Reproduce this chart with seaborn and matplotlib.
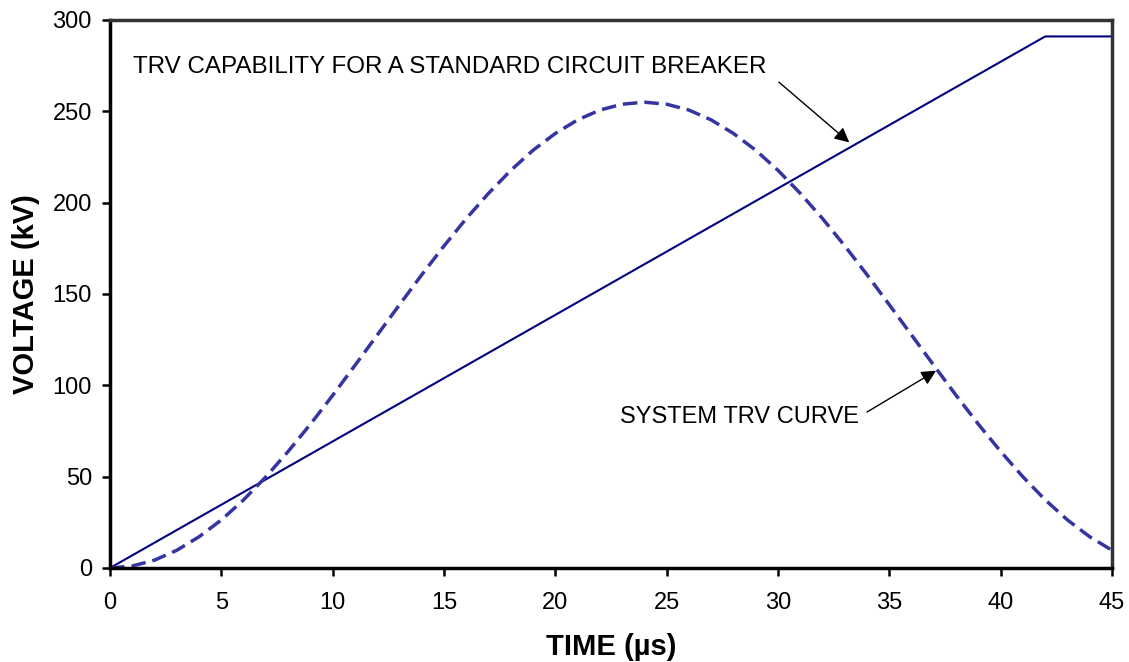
import matplotlib
matplotlib.use("Agg")
import matplotlib.pyplot as plt
import seaborn as sns
import pandas as pd

# Data
time_us = list(range(0, 46))
system_trv_kv = [0, 1.1, 4.3, 9.7, 17.1, 26.3, 37.3, 49.9, 63.8, 78.7,
                 94.5, 110.9, 127.5, 144.1, 160.5, 176.3, 191.3, 205.1, 217.7, 228.7,
                 237.9, 245.3, 250.7, 253.9, 255.0, 253.9, 250.7, 245.3, 237.9, 228.7,
                 217.7, 205.1, 191.3, 176.3, 160.5, 144.1, 127.5, 110.9, 94.5, 78.7,
                 63.8, 49.9, 37.3, 26.3, 17.1, 9.7]
capability_time = [0, 42, 45]
capability_kv = [0, 291, 291]

x_ticks = [0, 5, 10, 15, 20, 25, 30, 35, 40, 45]
y_ticks = [0, 50, 100, 150, 200, 250, 300]

sns.set_style("white")
plt.rcParams['font.family'] = ['Liberation Sans', 'DejaVu Sans']
plt.rcParams['text.color'] = 'black'
plt.rcParams['axes.labelcolor'] = 'black'

fig = plt.figure(figsize=(11.29, 6.62), dpi=100)
ax = fig.add_axes([110/1129, 1-568/662, (1112-110)/1129, (568-20)/662])

df_sys = pd.DataFrame({"t": time_us, "v": system_trv_kv})
df_cap = pd.DataFrame({"t": capability_time, "v": capability_kv})

sns.lineplot(data=df_cap, x="t", y="v", ax=ax, color="#000080", lw=1.5)
sns.lineplot(data=df_sys, x="t", y="v", ax=ax, color="#3535a2", lw=2.5)
ax.lines[-1].set_dashes((4.2, 2.0))

ax.set_xlim(0, 45)
ax.set_ylim(0, 300)
ax.set_xticks(x_ticks)
ax.set_yticks(y_ticks)
ax.tick_params(axis='both', direction='out', length=6, width=1.8, labelsize=17,
               colors='black', bottom=True, left=True)
ax.tick_params(axis='x', pad=11)
ax.tick_params(axis='y', pad=7)

for side in ['left', 'bottom']:
    ax.spines[side].set_color('black')
    ax.spines[side].set_linewidth(2.5)
for side in ['top', 'right']:
    ax.spines[side].set_color('#333333')
    ax.spines[side].set_linewidth(2.5)

ax.set_xlabel("TIME (µs)", fontsize=21, fontweight='bold', labelpad=14)
ax.set_ylabel("VOLTAGE (kV)", fontsize=21, fontweight='bold', labelpad=9)

ax.annotate("TRV CAPABILITY FOR A STANDARD CIRCUIT BREAKER",
            xy=(1.03, 274), xycoords='data',
            fontsize=17.4, va='center', ha='left', color='black')
ax.annotate("", xy=(33.2, 233), xytext=(30.04, 266),
            arrowprops=dict(arrowstyle='-|>', color='black', lw=1, mutation_scale=22,
                            shrinkA=0, shrinkB=0))

ax.annotate("SYSTEM TRV CURVE", xy=(22.9, 82.6), fontsize=17, va='center', ha='left',
            color='black')
ax.annotate("", xy=(37.1, 108), xytext=(34.0, 85.4),
            arrowprops=dict(arrowstyle='-|>', color='black', lw=1, mutation_scale=22,
                            shrinkA=0, shrinkB=0))

fig.savefig("out.png", dpi=100)
